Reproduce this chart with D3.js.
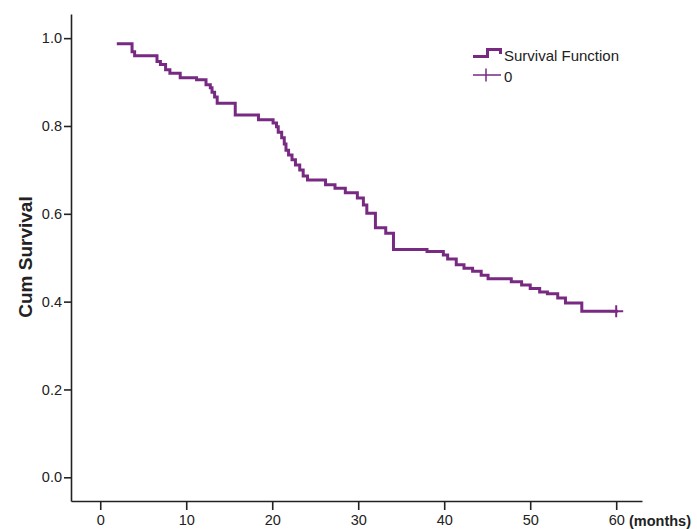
<!DOCTYPE html>
<html>
<head>
<meta charset="utf-8">
<script src="https://cdn.jsdelivr.net/npm/d3@7"></script>
<style>
  body { margin: 0; background: #fff; }
  text { font-family: "Liberation Sans", Arial, sans-serif; fill: #222; }
</style>
</head>
<body>
<div id="chart"></div>
<script>
var width = 697;
var height = 529;
var curveColor = '#782a82';

// Kaplan-Meier estimate (months, cumulative survival)
var eventTimes = [2.1, 3.7, 4.0, 6.6, 7.0, 7.6, 8.1, 9.3, 11.2, 12.3, 12.8, 13.0, 13.3, 13.6,
  15.7, 18.4, 20.1, 20.5, 20.7, 21.1, 21.4, 21.6, 21.9, 22.3, 22.7, 23.2, 23.6, 24.1,
  26.2, 27.3, 28.5, 29.9, 30.6, 31.0, 32.0, 33.2, 34.1, 38.0, 39.9, 40.4, 41.4, 42.3,
  43.3, 44.3, 45.1, 47.8, 49.0, 50.0, 51.1, 52.0, 53.2, 54.1, 56.0];
var survival = [0.987, 0.969, 0.960, 0.947, 0.940, 0.928, 0.920, 0.910, 0.905, 0.894, 0.887, 0.877, 0.866, 0.852,
  0.825, 0.814, 0.807, 0.798, 0.786, 0.773, 0.759, 0.745, 0.734, 0.723, 0.711, 0.700, 0.686, 0.677,
  0.666, 0.658, 0.648, 0.636, 0.620, 0.601, 0.568, 0.556, 0.519, 0.514, 0.506, 0.497, 0.484, 0.476,
  0.469, 0.460, 0.452, 0.445, 0.438, 0.430, 0.422, 0.418, 0.408, 0.397, 0.378];
var censorTimes = [60];
var censorValues = [0.378];

var xTicks = [0, 10, 20, 30, 40, 50, 60];
var yTicks = [0, 0.2, 0.4, 0.6, 0.8, 1.0];

var svg = d3.select('#chart')
  .append('svg')
  .attr('width', width)
  .attr('height', height);

var x = d3.scaleLinear().domain([-3.4, 63]).range([71, 642]);
var y = d3.scaleLinear().domain([-0.054, 1.055]).range([501, 14]);

// axes (tickSizeOuter after tickSize so the domain has no end caps)
var yAxis = svg.append('g')
  .attr('transform', 'translate(71,0)')
  .call(d3.axisLeft(y).tickValues(yTicks).tickFormat(d3.format('.1f'))
    .tickSize(7).tickSizeOuter(0).tickPadding(2));

var xAxis = svg.append('g')
  .attr('transform', 'translate(0,501)')
  .call(d3.axisBottom(x).tickValues(xTicks).tickFormat(d3.format('d'))
    .tickSize(9).tickSizeOuter(0).tickPadding(5));

[xAxis, yAxis].forEach(function(g) {
  g.select('.domain').attr('stroke', '#222').attr('stroke-width', 1.6);
  g.selectAll('.tick line').attr('stroke', '#222').attr('stroke-width', 1.6);
  g.selectAll('.tick text')
    .style('font-family', '"Liberation Sans", Arial, sans-serif')
    .style('font-size', '14.5px')
    .attr('fill', '#222');
});

svg.append('text')
  .attr('x', 629)
  .attr('y', 525.5)
  .style('font-size', '14.5px')
  .style('font-weight', 'bold')
  .text('(months)');

svg.append('text')
  .attr('transform', 'translate(32,257) rotate(-90)')
  .attr('text-anchor', 'middle')
  .style('font-size', '19px')
  .style('font-weight', 'bold')
  .text('Cum Survival');

// survival curve
var points = eventTimes.map(function(t, i) { return [t, survival[i]]; });
points.push([censorTimes[0], censorValues[0]]);

var line = d3.line()
  .x(function(d) { return x(d[0]); })
  .y(function(d) { return y(d[1]); })
  .curve(d3.curveStepAfter);

svg.append('path')
  .datum(points)
  .attr('d', line)
  .attr('fill', 'none')
  .attr('stroke', curveColor)
  .attr('stroke-width', 3)
  .attr('stroke-linejoin', 'miter')
  .attr('stroke-linecap', 'square');

// censor marks
censorTimes.forEach(function(t, i) {
  var cx = x(t), cy = y(censorValues[i]);
  svg.append('path')
    .attr('d', 'M' + (cx - 6) + ',' + cy + 'H' + (cx + 7) + 'M' + cx + ',' + (cy - 6) + 'V' + (cy + 6))
    .attr('stroke', curveColor)
    .attr('stroke-width', 2)
    .attr('fill', 'none');
});

// legend
var legend = svg.append('g');
legend.append('path')
  .attr('d', 'M473,56.5H487.5V49.5H500.5V54')
  .attr('fill', 'none')
  .attr('stroke', curveColor)
  .attr('stroke-width', 3);
legend.append('text')
  .attr('x', 504)
  .attr('y', 60.5)
  .style('font-size', '15px')
  .text('Survival Function');
legend.append('path')
  .attr('d', 'M473,75H501M486,68.5V81.5')
  .attr('fill', 'none')
  .attr('stroke', curveColor)
  .attr('stroke-width', 1.5);
legend.append('text')
  .attr('x', 504)
  .attr('y', 82)
  .style('font-size', '15px')
  .text('0');
</script>
</body>
</html>
